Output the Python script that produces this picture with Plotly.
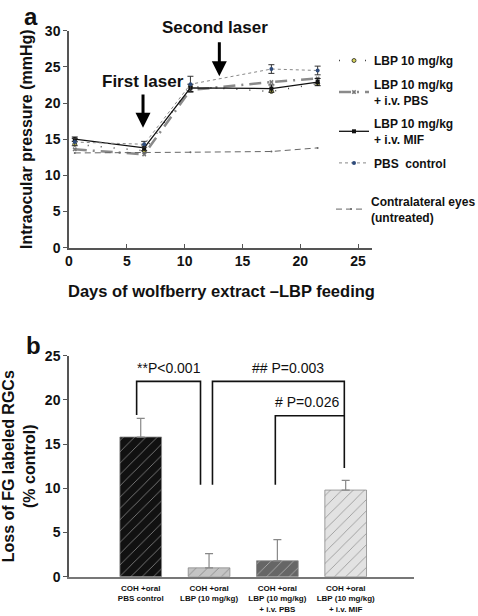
import plotly.graph_objects as go

# ---------- Panel a data ----------
days = [0.5, 6.5, 10.5, 17.5, 21.5]
lbp = [14.3, 13.4, 22.3, 21.6, 22.7]
lbp_pbs = [13.6, 12.9, 21.8, 22.9, 23.4]
lbp_mif = [15.0, 13.8, 22.1, 22.0, 22.9]
lbp_mif_err = [0.3, 0.4, 0.5, 0.5, 0.5]
pbs_ctrl = [14.6, 14.3, 22.6, 24.7, 24.5]
pbs_ctrl_err = [0.5, 0.4, 1.1, 0.6, 0.6]
contra = [13.1, 13.1, 13.2, 13.3, 13.8]

# ---------- Panel b data ----------
groups = ["COH +oral<br>PBS control", "COH +oral<br>LBP (10 mg/kg)",
          "COH +oral<br>LBP (10 mg/kg)<br>+ i.v. PBS", "COH +oral<br>LBP (10 mg/kg)<br>+ i.v. MIF"]
loss = [15.8, 1.0, 1.8, 9.8]
loss_err = [2.1, 1.6, 2.4, 1.1]
bar_colors = ["#111111", "#c4c4c4", "#666666", "#e2e2e2"]
hatch_colors = ["#555555", "#8a8a8a", "#7a7a7a", "#9a9a9a"]

FONT = "Liberation Sans, Arial, sans-serif"
fig = go.Figure()

# panel a traces
fig.add_trace(go.Scatter(x=days, y=lbp, name="LBP 10 mg/kg", legendgroup="g1",
    mode="lines+markers", line=dict(color="#444", width=1.5, dash="1px,12px"),
    marker=dict(symbol="circle", size=4, color="#d8d55a", line=dict(color="#222", width=0.8)),
    xaxis="x", yaxis="y"))
fig.add_trace(go.Scatter(x=days, y=lbp_pbs, name="LBP 10 mg/kg<br>+ i.v. PBS", legendgroup="g2",
    mode="lines+markers", line=dict(color="#8a8a8a", width=2.5, dash="12px,6px,2px,6px"),
    marker=dict(symbol="x", size=4, color="#777"),
    xaxis="x", yaxis="y"))
fig.add_trace(go.Scatter(x=days, y=lbp_mif, name="LBP 10 mg/kg<br>+ i.v. MIF", legendgroup="g3",
    mode="lines+markers", line=dict(color="#111", width=1.3),
    marker=dict(symbol="square", size=4, color="#111"),
    error_y=dict(type="data", array=lbp_mif_err, color="#111", thickness=1, width=3),
    xaxis="x", yaxis="y"))
fig.add_trace(go.Scatter(x=days, y=pbs_ctrl, name="PBS  control", legendgroup="g4",
    mode="lines+markers", line=dict(color="#888", width=1, dash="dot"),
    marker=dict(symbol="circle", size=4, color="#2d4a7a"),
    error_y=dict(type="data", array=pbs_ctrl_err, color="#333", thickness=1, width=3),
    xaxis="x", yaxis="y"))
fig.add_trace(go.Scatter(x=days, y=contra, name="Contralateral eyes<br>(untreated)", legendgroup="g5",
    legend="legend2",
    mode="lines+markers", line=dict(color="#666", width=1, dash="6px,4px"),
    marker=dict(symbol="circle", size=2, color="#666"),
    xaxis="x", yaxis="y"))

# panel b bars
fig.add_trace(go.Bar(x=[0, 1, 2, 3], y=loss, width=0.61, showlegend=False,
    marker=dict(color=bar_colors, line=dict(color="#888", width=0.8),
                pattern=dict(shape=["/", "/", "/", "/"], fgcolor=hatch_colors, size=8, solidity=0.1)),
    error_y=dict(type="data", array=loss_err, symmetric=False, arrayminus=[0, 0, 0, 0],
                 color="#888", thickness=1.2, width=4),
    xaxis="x2", yaxis="y2"))

# brackets (data-space lines)
def bracket(xs, ys):
    fig.add_trace(go.Scatter(x=xs, y=ys, mode="lines", line=dict(color="#111", width=1.6),
                             showlegend=False, hoverinfo="skip", xaxis="x2", yaxis="y2"))

bracket([-0.06, -0.06, 0.875, 0.875], [18.3, 22.1, 22.1, 10.4])
bracket([1.05, 1.05, 2.98, 2.98], [10.4, 22.1, 22.1, 12.3])
bracket([1.97, 1.97, 2.98], [10.4, 18.2, 18.2])

ann = []
ann.append(dict(x=0.41, y=22.5, xref="x2", yref="y2", text="**P<0.001", showarrow=False,
                font=dict(size=14, color="#111", family=FONT), yanchor="bottom"))
ann.append(dict(x=2.15, y=22.5, xref="x2", yref="y2", text="## P=0.003", showarrow=False,
                font=dict(size=14, color="#111", family=FONT), yanchor="bottom"))
ann.append(dict(x=2.44, y=18.6, xref="x2", yref="y2", text="# P=0.026", showarrow=False,
                font=dict(size=14, color="#111", family=FONT), yanchor="bottom"))

# laser arrows
ann.append(dict(x=6.4, y=16.6, xref="x", yref="y", ax=6.4, ay=21.4, axref="x", ayref="y",
                showarrow=True, arrowhead=2, arrowsize=1, arrowwidth=3, arrowcolor="#000", text=""))
ann.append(dict(x=6.4, y=21.4, xref="x", yref="y", text="<b>First laser</b>", showarrow=False,
                font=dict(size=17, color="#111", family=FONT), yanchor="bottom"))
ann.append(dict(x=13.0, y=23.7, xref="x", yref="y", ax=13.0, ay=28.6, axref="x", ayref="y",
                showarrow=True, arrowhead=2, arrowsize=1, arrowwidth=3, arrowcolor="#000", text=""))
ann.append(dict(x=12.6, y=28.9, xref="x", yref="y", text="<b>Second laser</b>", showarrow=False,
                font=dict(size=17, color="#111", family=FONT), yanchor="bottom"))

# panel letters and titles
ann.append(dict(x=31 / 478, y=1 - 16 / 616, xref="paper", yref="paper", text="<b>a</b>", showarrow=False,
                xanchor="center", yanchor="middle", font=dict(size=24, color="#111", family=FONT)))
ann.append(dict(x=33 / 478, y=1 - 345 / 616, xref="paper", yref="paper", text="<b>b</b>", showarrow=False,
                xanchor="center", yanchor="middle", font=dict(size=24, color="#111", family=FONT)))
ann.append(dict(x=221 / 478, y=1 - 291 / 616, xref="paper", yref="paper",
                text="<b>Days of wolfberry extract –LBP feeding</b>", showarrow=False,
                xanchor="center", yanchor="middle", font=dict(size=16.5, color="#111", family=FONT)))

axis_common = dict(showline=True, linecolor="#555", linewidth=1.5, ticklen=4,
                   tickcolor="#555", showgrid=False, zeroline=False, automargin=False,
                   tickfont=dict(size=14, color="#111", family=FONT, weight="bold"))

fig.update_layout(
    width=478, height=616, margin=dict(l=0, r=0, t=0, b=0, autoexpand=False),
    paper_bgcolor="white", plot_bgcolor="white",
    font=dict(family=FONT, color="#111"),
    xaxis=dict(domain=[69 / 478, 372 / 478], range=[0, 26.2], tickvals=[0, 5, 10, 15, 20, 25],
               anchor="y", ticks="inside", **axis_common),
    yaxis=dict(domain=[1 - 247.7 / 616, 1 - 30.7 / 616], range=[0, 30], tickvals=[0, 5, 10, 15, 20, 25, 30],
               anchor="x", ticks="outside",
               title=dict(text="<b>Intraocular pressure (mmHg)</b>", font=dict(size=16, family=FONT), standoff=8),
               **axis_common),
    xaxis2=dict(domain=[69 / 478, 414 / 478], range=[-1.05, 4.0], tickvals=[0, 1, 2, 3], ticktext=groups,
                anchor="y2", showline=True, linecolor="#777", linewidth=1.5, ticks="", showgrid=False,
                zeroline=False, automargin=False, ticklabelstandoff=3,
                tickfont=dict(size=8, color="#111", family=FONT, weight="bold")),
    yaxis2=dict(domain=[1 - 576.7 / 616, 1 - 355.7 / 616], range=[0, 25], tickvals=[0, 5, 10, 15, 20, 25],
                anchor="x2", ticks="outside",
                title=dict(text="<b>Loss of FG labeled RGCs<br>(% control)</b>", font=dict(size=16, family=FONT), standoff=8),
                **axis_common),
    legend=dict(x=334 / 478, y=1 - 46 / 616, xanchor="left", yanchor="top", traceorder="grouped",
                tracegroupgap=5, bgcolor="rgba(0,0,0,0)",
                font=dict(size=12, color="#111", family=FONT, weight="bold")),
    legend2=dict(x=331 / 478, y=1 - 187 / 616, xanchor="left", yanchor="top",
                 bgcolor="rgba(0,0,0,0)",
                 font=dict(size=12, color="#111", family=FONT, weight="bold")),
    annotations=ann, bargap=0.3,
)

fig.write_html("out.html", config={"displayModeBar": False},
               post_script="document.body.style.margin='0px';document.body.style.overflow='hidden';")
